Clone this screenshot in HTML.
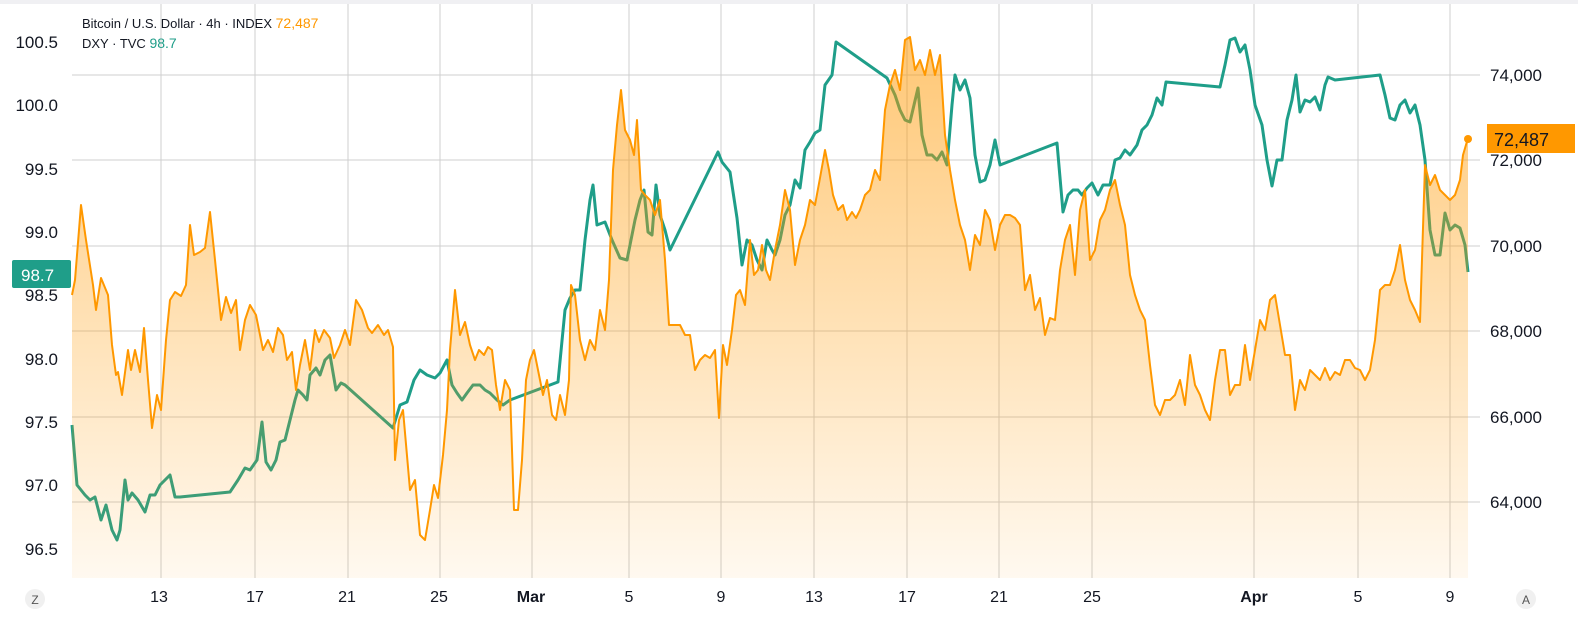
<!DOCTYPE html>
<html><head><meta charset="utf-8"><style>
html,body{margin:0;padding:0;background:#fff;overflow:hidden;width:1578px;height:621px;}
svg{display:block;}
svg text{font-family:"Liberation Sans",sans-serif;}
</style></head><body>
<svg width="1578" height="621" viewBox="0 0 1578 621" xmlns="http://www.w3.org/2000/svg">
<defs>
<linearGradient id="g" gradientUnits="userSpaceOnUse" x1="0" y1="30" x2="0" y2="578">
<stop offset="0" stop-color="#ff9800" stop-opacity="0.55"/>
<stop offset="1" stop-color="#ff9800" stop-opacity="0.06"/>
</linearGradient>
</defs>
<rect x="0" y="0" width="1578" height="4" fill="#f0f0f3"/>
<g stroke="#cfcfcf" stroke-width="1">
<line x1="72" y1="75" x2="1480" y2="75"/><line x1="72" y1="160" x2="1480" y2="160"/><line x1="72" y1="246" x2="1480" y2="246"/><line x1="72" y1="331" x2="1480" y2="331"/><line x1="72" y1="417" x2="1480" y2="417"/><line x1="72" y1="502" x2="1480" y2="502"/>
<line x1="161" y1="4" x2="161" y2="578"/><line x1="255" y1="4" x2="255" y2="578"/><line x1="348" y1="4" x2="348" y2="578"/><line x1="440" y1="4" x2="440" y2="578"/><line x1="532" y1="4" x2="532" y2="578"/><line x1="629" y1="4" x2="629" y2="578"/><line x1="721" y1="4" x2="721" y2="578"/><line x1="814" y1="4" x2="814" y2="578"/><line x1="907" y1="4" x2="907" y2="578"/><line x1="999" y1="4" x2="999" y2="578"/><line x1="1092" y1="4" x2="1092" y2="578"/><line x1="1254" y1="4" x2="1254" y2="578"/><line x1="1358" y1="4" x2="1358" y2="578"/><line x1="1450" y1="4" x2="1450" y2="578"/>
</g>
<polyline fill="none" stroke="#1f9e89" stroke-width="3" stroke-linejoin="round" points="72,425 77,485 85,495 90,500 95,497 101,520 106,505 112,530 117,540 120,530 125,480 128,500 132,493 138,500 145,512 150,495 155,495 160,485 165,480 170,475 175,497 180,497 230,492 238,480 245,468 250,470 257,460 262,422 266,462 271,470 276,460 280,442 285,440 290,420 295,400 298,390 303,395 307,400 310,375 316,368 320,375 325,360 330,355 336,390 341,383 345,385 393,428 400,405 407,402 414,380 420,370 427,375 435,378 440,373 447,360 452,385 457,393 462,400 467,393 473,385 480,385 485,390 490,393 497,400 503,405 510,400 558,382 565,310 570,298 575,290 580,290 585,240 590,200 593,185 597,225 605,222 612,240 620,258 627,260 635,220 640,200 644,190 648,232 652,235 656,185 660,215 665,230 670,250 718,152 722,162 730,172 737,218 742,265 747,240 752,245 757,260 762,270 767,240 772,250 775,255 780,240 785,215 790,205 795,180 800,188 805,150 810,142 815,133 820,130 825,85 832,75 836,42 887,78 895,95 900,110 905,120 910,122 918,88 922,135 927,155 932,155 937,160 942,152 947,165 952,105 955,75 960,90 965,80 970,98 975,155 980,182 985,180 990,165 995,140 1000,165 1057,143 1063,212 1068,195 1073,190 1078,190 1082,195 1087,188 1092,183 1098,195 1103,185 1110,185 1115,160 1120,158 1125,150 1130,155 1137,145 1142,130 1147,125 1152,115 1157,98 1162,105 1166,82 1220,87 1225,65 1230,40 1235,38 1240,52 1245,45 1250,70 1255,105 1262,125 1267,160 1272,186 1277,160 1282,160 1287,120 1292,100 1296,75 1300,112 1305,100 1310,102 1315,97 1320,110 1325,85 1328,77 1335,80 1380,75 1385,95 1390,118 1395,120 1400,105 1405,100 1410,113 1415,105 1420,125 1425,160 1430,230 1435,255 1440,255 1445,213 1450,230 1455,225 1460,228 1465,245 1468,272"/>
<polygon fill="url(#g)" points="72,578 72,295 75,280 81,205 86,240 93,285 96,310 101,278 108,295 112,345 116,375 118,372 122,395 128,350 131,370 135,350 140,372 144,328 148,380 152,428 157,395 161,410 166,340 170,300 175,292 181,296 186,285 190,225 194,255 200,252 205,248 210,212 215,260 221,320 226,297 231,313 236,300 240,350 245,320 250,305 256,315 263,350 268,340 273,352 278,328 283,335 287,360 292,352 296,390 300,365 305,340 310,370 315,330 319,342 324,330 330,338 334,358 340,345 345,330 350,345 356,300 362,310 368,328 372,333 378,325 384,335 388,330 393,347 395,460 399,420 403,410 410,490 415,480 420,535 425,540 430,510 434,485 438,498 443,455 447,410 450,350 455,290 460,335 465,322 470,345 475,360 479,350 484,355 488,347 492,350 496,385 500,410 505,380 510,390 514,510 518,510 522,460 526,380 530,360 534,350 538,370 543,395 547,380 552,415 556,420 560,395 565,415 569,380 571,285 575,295 580,340 585,360 590,340 595,350 600,310 605,330 609,280 613,170 617,125 621,90 625,130 630,140 634,155 637,120 641,190 645,195 650,200 655,215 660,200 665,260 669,325 674,325 680,325 685,335 690,335 695,370 700,360 705,355 710,358 715,350 719,418 723,345 727,365 732,330 736,295 740,290 745,305 750,240 754,275 758,270 762,245 766,270 770,280 775,250 780,225 785,190 790,210 795,265 800,240 805,225 810,200 815,205 820,178 825,150 829,170 833,195 838,210 843,205 847,220 852,212 856,218 860,210 865,195 870,190 875,170 880,180 885,110 890,85 895,70 900,90 905,40 910,37 915,70 920,60 925,75 930,50 935,75 940,55 945,135 950,170 955,200 960,225 965,240 970,270 975,235 980,245 985,210 990,220 995,250 1000,225 1005,215 1010,215 1015,218 1020,225 1025,290 1030,275 1035,310 1040,298 1045,335 1050,318 1055,320 1060,270 1065,240 1070,225 1075,275 1080,210 1085,190 1090,260 1095,250 1100,220 1105,210 1110,190 1115,180 1120,205 1125,225 1130,275 1135,295 1140,310 1145,320 1150,365 1155,405 1160,415 1165,400 1170,400 1175,395 1180,380 1185,405 1190,355 1195,385 1200,395 1205,410 1210,420 1215,380 1220,350 1225,350 1230,395 1235,385 1240,385 1245,345 1250,380 1255,350 1260,320 1265,330 1270,300 1275,295 1280,325 1285,355 1290,355 1295,410 1300,380 1305,390 1310,370 1315,375 1320,380 1325,368 1330,380 1335,372 1340,375 1345,360 1350,360 1355,368 1360,370 1365,380 1370,370 1375,340 1380,290 1385,285 1390,285 1395,270 1400,245 1405,280 1410,300 1415,310 1420,322 1425,165 1430,185 1435,175 1440,190 1445,195 1450,200 1455,195 1460,180 1463,155 1468,138 1468,578"/>
<polyline fill="none" stroke="#ff9800" stroke-width="2" stroke-linejoin="round" points="72,295 75,280 81,205 86,240 93,285 96,310 101,278 108,295 112,345 116,375 118,372 122,395 128,350 131,370 135,350 140,372 144,328 148,380 152,428 157,395 161,410 166,340 170,300 175,292 181,296 186,285 190,225 194,255 200,252 205,248 210,212 215,260 221,320 226,297 231,313 236,300 240,350 245,320 250,305 256,315 263,350 268,340 273,352 278,328 283,335 287,360 292,352 296,390 300,365 305,340 310,370 315,330 319,342 324,330 330,338 334,358 340,345 345,330 350,345 356,300 362,310 368,328 372,333 378,325 384,335 388,330 393,347 395,460 399,420 403,410 410,490 415,480 420,535 425,540 430,510 434,485 438,498 443,455 447,410 450,350 455,290 460,335 465,322 470,345 475,360 479,350 484,355 488,347 492,350 496,385 500,410 505,380 510,390 514,510 518,510 522,460 526,380 530,360 534,350 538,370 543,395 547,380 552,415 556,420 560,395 565,415 569,380 571,285 575,295 580,340 585,360 590,340 595,350 600,310 605,330 609,280 613,170 617,125 621,90 625,130 630,140 634,155 637,120 641,190 645,195 650,200 655,215 660,200 665,260 669,325 674,325 680,325 685,335 690,335 695,370 700,360 705,355 710,358 715,350 719,418 723,345 727,365 732,330 736,295 740,290 745,305 750,240 754,275 758,270 762,245 766,270 770,280 775,250 780,225 785,190 790,210 795,265 800,240 805,225 810,200 815,205 820,178 825,150 829,170 833,195 838,210 843,205 847,220 852,212 856,218 860,210 865,195 870,190 875,170 880,180 885,110 890,85 895,70 900,90 905,40 910,37 915,70 920,60 925,75 930,50 935,75 940,55 945,135 950,170 955,200 960,225 965,240 970,270 975,235 980,245 985,210 990,220 995,250 1000,225 1005,215 1010,215 1015,218 1020,225 1025,290 1030,275 1035,310 1040,298 1045,335 1050,318 1055,320 1060,270 1065,240 1070,225 1075,275 1080,210 1085,190 1090,260 1095,250 1100,220 1105,210 1110,190 1115,180 1120,205 1125,225 1130,275 1135,295 1140,310 1145,320 1150,365 1155,405 1160,415 1165,400 1170,400 1175,395 1180,380 1185,405 1190,355 1195,385 1200,395 1205,410 1210,420 1215,380 1220,350 1225,350 1230,395 1235,385 1240,385 1245,345 1250,380 1255,350 1260,320 1265,330 1270,300 1275,295 1280,325 1285,355 1290,355 1295,410 1300,380 1305,390 1310,370 1315,375 1320,380 1325,368 1330,380 1335,372 1340,375 1345,360 1350,360 1355,368 1360,370 1365,380 1370,370 1375,340 1380,290 1385,285 1390,285 1395,270 1400,245 1405,280 1410,300 1415,310 1420,322 1425,165 1430,185 1435,175 1440,190 1445,195 1450,200 1455,195 1460,180 1463,155 1468,138"/>
<circle cx="1468" cy="139" r="4" fill="#ff9800"/>
<g font-size="17" fill="#131722" text-anchor="end">
<text x="58" y="48">100.5</text><text x="58" y="111">100.0</text><text x="58" y="175">99.5</text><text x="58" y="238">99.0</text><text x="58" y="301">98.5</text><text x="58" y="365">98.0</text><text x="58" y="428">97.5</text><text x="58" y="491">97.0</text><text x="58" y="555">96.5</text>
</g>
<g font-size="17" fill="#131722">
<text x="1490" y="81">74,000</text><text x="1490" y="166">72,000</text><text x="1490" y="252">70,000</text><text x="1490" y="337">68,000</text><text x="1490" y="423">66,000</text><text x="1490" y="508">64,000</text>
</g>
<rect x="12" y="260" width="59" height="28" rx="2" fill="#1f9e89"/>
<text x="21" y="281" font-size="17" fill="#fff">98.7</text>
<rect x="1487" y="124" width="88" height="29" fill="#ff9800"/>
<text x="1494" y="146" font-size="18" fill="#131722">72,487</text>
<g font-size="16" fill="#131722" text-anchor="middle">
<text x="159" y="602">13</text><text x="255" y="602">17</text><text x="347" y="602">21</text><text x="439" y="602">25</text><text x="531" y="602" font-weight="bold">Mar</text><text x="629" y="602">5</text><text x="721" y="602">9</text><text x="814" y="602">13</text><text x="907" y="602">17</text><text x="999" y="602">21</text><text x="1092" y="602">25</text><text x="1254" y="602" font-weight="bold">Apr</text><text x="1358" y="602">5</text><text x="1450" y="602">9</text>
</g>
<circle cx="35" cy="599" r="10" fill="#f0f0f0"/><text x="35" y="604" font-size="12" fill="#555" text-anchor="middle">Z</text>
<circle cx="1526" cy="599" r="10" fill="#f0f0f0"/><text x="1526" y="604" font-size="12" fill="#555" text-anchor="middle">A</text>
<text x="82" y="28" font-size="13" fill="#131722">Bitcoin / U.S. Dollar · 4h · INDEX <tspan fill="#ff9800" font-size="14">72,487</tspan></text>
<text x="82" y="48" font-size="13" fill="#131722">DXY · TVC <tspan fill="#1f9e89" font-size="14">98.7</tspan></text>
</svg>
</body></html>
